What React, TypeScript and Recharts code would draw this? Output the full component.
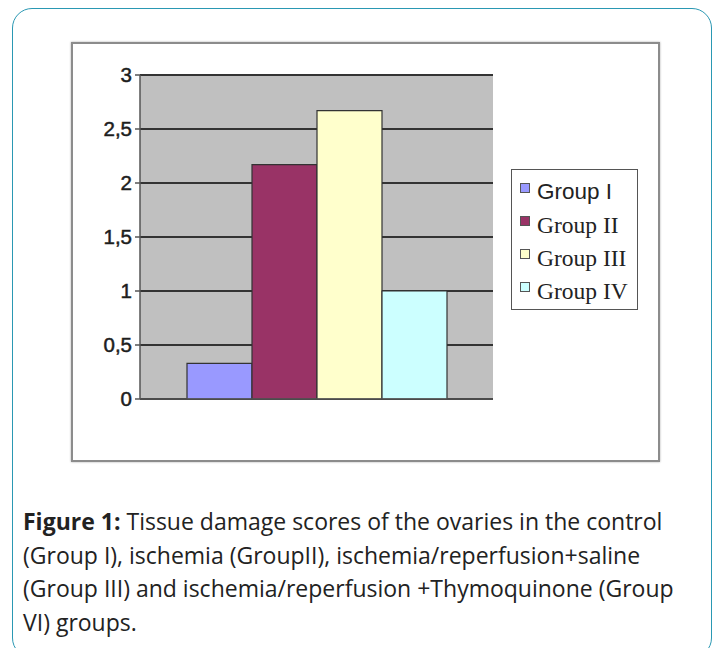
import { Bar, BarChart, CartesianGrid, Legend, XAxis, YAxis } from "recharts";

const groups = ["Group I", "Group II", "Group III", "Group IV"];
const scores = [0.33, 2.17, 2.67, 1.0];
const colors = ["#9999ff", "#993366", "#ffffcc", "#ccffff"];
const legendFonts = ["'Liberation Sans', Arial, sans-serif", "'Liberation Serif', serif", "'Liberation Serif', serif", "'Liberation Serif', serif"];
const yTicks = [0, 0.5, 1, 1.5, 2, 2.5, 3];

const row: Record<string, number | string> = { name: "scores" };
groups.forEach((g, i) => {
  row[g] = scores[i];
});
const data = [row];

function LegendBox() {
  return (
    <div
      style={{
        border: "1.5px solid #555",
        background: "#fff",
        padding: "5px 4px 2px 8px",
        width: 127,
        boxSizing: "border-box",
      }}
    >
      {groups.map((g, i) => (
        <div key={g} style={{ display: "flex", alignItems: "center", height: 33 }}>
          <span
            style={{
              display: "inline-block",
              width: 8,
              height: 8,
              background: colors[i],
              border: "1px solid #555",
              marginRight: 7,
              marginTop: -7,
            }}
          />
          <span
            style={{
              fontFamily: legendFonts[i],
              fontSize: i === 0 ? 22.5 : 23.5,
              color: "#222",
              lineHeight: "26px",
              whiteSpace: "nowrap",
            }}
          >
            {g}
          </span>
        </div>
      ))}
    </div>
  );
}

export default function App() {
  return (
    <div style={{ position: "absolute", left: 0, top: 0, width: 715, height: 648, overflow: "hidden", background: "#fff" }}>
      <div
        style={{
          position: "absolute",
          left: 12,
          top: 8,
          width: 700,
          height: 650,
          border: "1.5px solid #2a98b3",
          borderRadius: 20,
          boxSizing: "border-box",
        }}
      />
      <div
        style={{
          position: "absolute",
          left: 71,
          top: 42,
          width: 589,
          height: 420,
          border: "2px solid #8c8c8c",
          boxSizing: "border-box",
          boxShadow: "0 0 2px #aaa",
          background: "#fff",
        }}
      />
      <div style={{ position: "absolute", left: 71, top: 42 }}>
        <BarChart width={589} height={420} data={data} margin={{ top: 33, right: 167, left: 9, bottom: 57 }} barGap={0}>
          <CartesianGrid vertical={false} fill="#c0c0c0" stroke="#333" strokeWidth={1.8} strokeOpacity={1} />
          <XAxis dataKey="name" hide height={0} />
          <XAxis
            xAxisId="edges"
            type="number"
            domain={[0, 1]}
            ticks={[0, 1]}
            height={6}
            tick={false}
            tickSize={5}
            axisLine={{ stroke: "#555", strokeWidth: 1.5 }}
            tickLine={{ stroke: "#555", strokeWidth: 1.5 }}
          />
          <YAxis
            width={60}
            domain={[0, 3]}
            ticks={yTicks}
            interval={0}
            tickSize={5}
            tickMargin={3}
            tickFormatter={(v: number) => String(v).replace(".", ",")}
            axisLine={{ stroke: "#555", strokeWidth: 1.5 }}
            tickLine={{ stroke: "#555", strokeWidth: 1.5 }}
            tick={{
              fill: "#1e1e1e",
              stroke: "#1e1e1e",
              strokeWidth: 0.5,
              fontSize: 20.5,
              fontFamily: "'Liberation Sans', Arial, sans-serif",
            }}
          />
          {groups.map((g, i) => (
            <Bar key={g} dataKey={g} name={g} fill={colors[i]} stroke="#333" strokeWidth={1.2} barSize={65} isAnimationActive={false} />
          ))}
          <Legend
            layout="horizontal"
            verticalAlign="middle"
            align="center"
            content={() => <LegendBox />}
            wrapperStyle={{ left: 440, top: 127, width: 127 }}
          />
        </BarChart>
      </div>
      <div
        style={{
          position: "absolute",
          left: 23,
          top: 505,
          fontFamily: "'Open Sans', sans-serif",
          fontSize: 23,
          lineHeight: "33.5px",
          color: "#222",
          whiteSpace: "nowrap",
        }}
      >
        <b>Figure 1:</b> Tissue damage scores of the ovaries in the control
        <br />
        (Group I), ischemia (GroupII), ischemia/reperfusion+saline
        <br />
        (Group III) and ischemia/reperfusion +Thymoquinone (Group
        <br />
        VI) groups.
      </div>
    </div>
  );
}
